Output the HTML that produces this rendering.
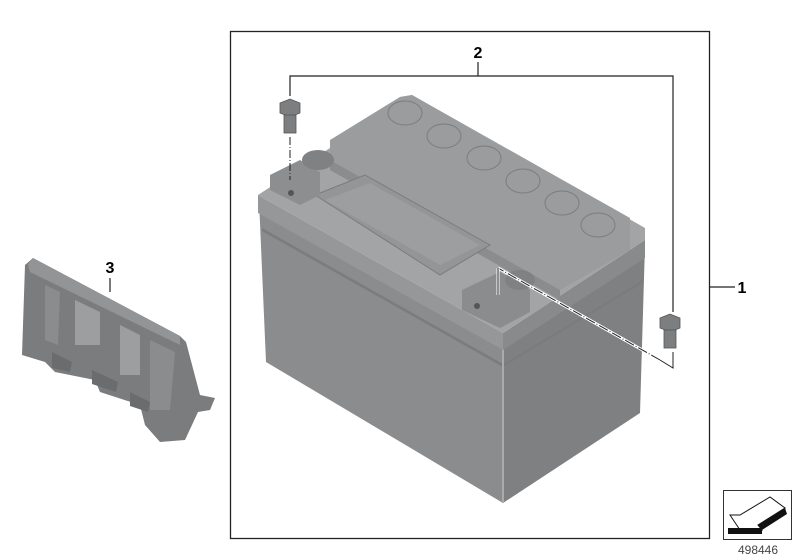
<!DOCTYPE html>
<html><head><meta charset="utf-8"><style>
html,body{margin:0;padding:0;background:#fff;width:800px;height:560px;overflow:hidden}
svg{display:block}
text{font-family:"Liberation Sans",sans-serif}
</style></head><body>
<svg width="800" height="560" viewBox="0 0 800 560" xmlns="http://www.w3.org/2000/svg">
<rect x="230.5" y="31.5" width="479" height="507" fill="none" stroke="#222" stroke-width="1.3"/>
<text x="478" y="58" font-size="16" font-weight="bold" text-anchor="middle">2</text>
<polyline points="290,96 290,76 673,76 673,312" fill="none" stroke="#222" stroke-width="1.2"/>
<line x1="478" y1="62" x2="478" y2="76" stroke="#222" stroke-width="1.2"/>
<text x="742" y="293" font-size="16" font-weight="bold" text-anchor="middle">1</text>
<line x1="710" y1="287" x2="735" y2="287" stroke="#222" stroke-width="1.2"/>

<!-- battery body -->
<polygon points="259,200 503,338 503,503 266,362" fill="#8a8c8e"/>
<polygon points="503,338 645,245 640,413 503,503" fill="#7e8082"/>
<polygon points="262,228 503,364 643,280 643,283 503,367 262,231" fill="#7a7c7e"/>
<line x1="503" y1="345" x2="503" y2="503" stroke="#a9abad" stroke-width="2"/>
<!-- lid skirt -->
<polygon points="258,195 503,333 503,350 258,213" fill="#959799"/>
<polygon points="503,333 645,240 645,258 503,350" fill="#888a8c"/>
<!-- lid top -->
<polygon points="258,195 330,148 400,97 412,95 645,228 645,240 503,333" fill="#a2a4a6"/>
<polygon points="330,140 400,97 412,95 630,218 630,250 560,290 330,160" fill="#9a9c9e"/>
<polygon points="330,160 560,290 560,300 330,170" fill="#8a8c8e"/>
<g fill="none" stroke="#7a7c7e" stroke-width="1">
<ellipse cx="405" cy="113" rx="17" ry="12"/>
<ellipse cx="444" cy="136" rx="17" ry="12"/>
<ellipse cx="484" cy="158" rx="17" ry="12"/>
<ellipse cx="523" cy="181" rx="17" ry="12"/>
<ellipse cx="562" cy="203" rx="17" ry="12"/>
<ellipse cx="598" cy="225" rx="17" ry="12"/>
</g>
<polygon points="315,195 365,175 490,245 440,275" fill="#939597" stroke="#7a7c7e"/>
<polygon points="325,200 370,183 480,245 440,265" fill="#9c9ea0"/>
<polygon points="270,175 300,160 320,172 320,195 300,205 270,190" fill="#8c8e90"/>
<ellipse cx="318" cy="160" rx="16" ry="10" fill="#7f8183"/>
<polygon points="462,290 500,272 530,290 530,312 500,328 462,310" fill="#8a8c8e"/>
<ellipse cx="520" cy="280" rx="15" ry="10" fill="#7f8183"/>
<circle cx="291" cy="193" r="3" fill="#555"/>
<circle cx="477" cy="306" r="3" fill="#555"/>

<g fill="#7c7e80" stroke="#555" stroke-width="0.8">
<polygon points="280,103 290,99 300,103 300,113 290,117 280,113"/>
<rect x="284" y="115" width="12" height="18"/>
<polygon points="660,318 670,314 680,318 680,328 670,332 660,328"/>
<rect x="664" y="330" width="12" height="18"/>
</g>
<line x1="290" y1="137" x2="290" y2="180" stroke="#222" stroke-width="1" stroke-dasharray="8,2,1,2"/>
<polyline points="673,352 673,368 660,360" fill="none" stroke="#222" stroke-width="1"/>
<line x1="660" y1="360" x2="498" y2="268" stroke="#fff" stroke-width="3"/>
<line x1="660" y1="360" x2="498" y2="268" stroke="#222" stroke-width="1" stroke-dasharray="10,2,1,2"/>
<line x1="498" y1="268" x2="498" y2="295" stroke="#fff" stroke-width="3"/>
<line x1="498" y1="268" x2="498" y2="295" stroke="#222" stroke-width="1"/>

<!-- bracket 3 -->
<text x="110" y="273" font-size="16" font-weight="bold" text-anchor="middle">3</text>
<line x1="110" y1="278" x2="110" y2="292" stroke="#222" stroke-width="1.2"/>
<polygon points="25,265 33,258 180,336 186,342 200,395 215,398 210,410 198,412 185,440 160,442 145,425 140,405 100,392 95,380 55,372 45,362 22,355" fill="#7a7c7e"/>
<polygon points="28,264 33,258 180,336 180,345 30,272" fill="#929496"/>
<polygon points="45,285 60,292 58,345 45,340" fill="#8a8c8e"/>
<polygon points="75,300 100,312 100,345 75,345" fill="#9c9ea0"/>
<polygon points="120,325 140,335 140,375 120,375" fill="#9c9ea0"/>
<polygon points="150,340 175,352 170,410 150,410" fill="#8a8c8e"/>
<polygon points="52,352 72,362 70,372 52,368" fill="#6a6c6e"/>
<polygon points="92,370 118,382 116,392 92,384" fill="#6a6c6e"/>
<polygon points="130,392 150,402 148,412 130,406" fill="#6a6c6e"/>

<rect x="723.5" y="490.5" width="68" height="49" fill="#fff" stroke="#333" stroke-width="1"/>
<polygon points="730,515 740,530 762,530 758,525 785,508 770,497 740,515" fill="#fff" stroke="#111" stroke-width="1"/>
<polygon points="728,528 762,528 762,534 728,534" fill="#111"/>
<polygon points="758,525 785,508 787,514 762,530" fill="#111"/>
<text x="758" y="554" font-size="12" fill="#444" text-anchor="middle">498446</text>
</svg>
</body></html>
